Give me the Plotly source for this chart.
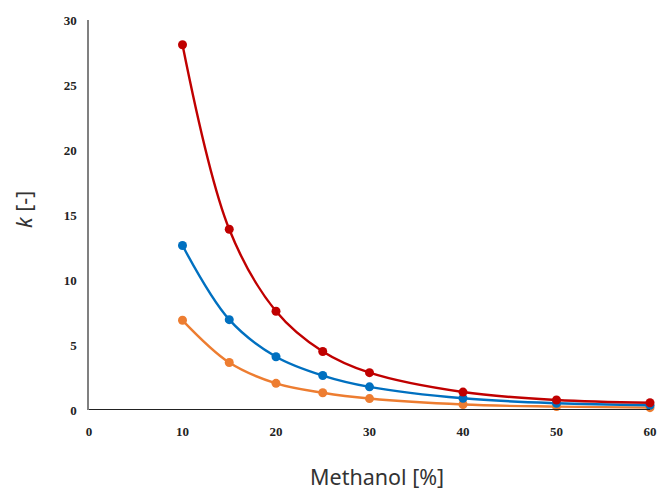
import plotly.graph_objects as go

methanol = [10, 15, 20, 25, 30, 40, 50, 60]
k_red = [28.1, 13.9, 7.6, 4.5, 2.87, 1.38, 0.77, 0.56]
k_blue = [12.65, 6.95, 4.1, 2.65, 1.78, 0.9, 0.52, 0.36]
k_orange = [6.9, 3.65, 2.05, 1.33, 0.88, 0.42, 0.26, 0.18]

x_ticks = [0, 10, 20, 30, 40, 50, 60]
y_ticks = [0, 5, 10, 15, 20, 25, 30]

fig = go.Figure()
for ys, col in [(k_orange, "#ED7D31"), (k_blue, "#0070C0"), (k_red, "#C00000")]:
    fig.add_trace(go.Scatter(
        x=methanol, y=ys, mode="lines+markers",
        line=dict(color=col, width=2.4, shape="spline", smoothing=1.0),
        marker=dict(color=col, size=9),
        showlegend=False, cliponaxis=False,
    ))

tickfont = dict(family="Liberation Serif", size=13, color="#222222", weight="bold")
titlefont = dict(family="Noto Sans", size=21.5, color="#333333")
fig.update_layout(
    width=659, height=491,
    margin=dict(l=89, r=9, t=20, b=81),
    paper_bgcolor="white", plot_bgcolor="white",
    xaxis=dict(range=[0, 60], tickvals=x_ticks, showgrid=False, zeroline=False,
               showline=False, ticks="", tickfont=tickfont, automargin=False,
               ticklabelstandoff=12),
    yaxis=dict(range=[0, 30], tickvals=y_ticks, showgrid=False, zeroline=False,
               showline=True, linecolor="#808080", linewidth=1.5, ticks="",
               tickfont=tickfont, ticklabelstandoff=8, automargin=False),
    shapes=[dict(type="line", xref="x", yref="y", x0=0, x1=60, y0=0, y1=0,
                 line=dict(color="#222222", width=2))],
    annotations=[
        dict(text="Methanol [%]", xref="paper", yref="paper", x=0.514, y=-0.17,
             xanchor="center", yanchor="middle", showarrow=False, font=titlefont),
        dict(text="<i>k</i> [-]", xref="paper", yref="paper", x=-0.118, y=0.515,
             xanchor="center", yanchor="middle", showarrow=False, font=titlefont,
             textangle=-90),
    ],
)

fig.write_html("out.html", config={"displayModeBar": False},
               post_script="document.body.style.margin='0';")
